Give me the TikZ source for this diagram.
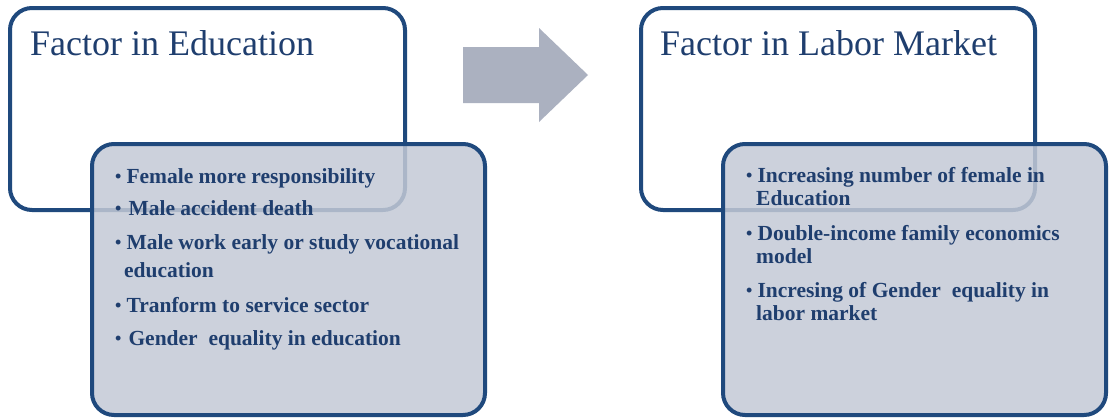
\documentclass[tikz,border=0pt]{standalone}
\usepackage{fontspec}
\setmainfont{Liberation Serif}
\definecolor{bord}{RGB}{31,73,125}
\definecolor{txt}{RGB}{31,62,110}
\definecolor{grayfill}{RGB}{196,202,214}
\definecolor{arrowc}{RGB}{171,177,192}
\newcommand{\smallbul}{\raisebox{1pt}{\fontsize{18}{18}\selectfont\textbullet}}
\begin{document}
\begin{tikzpicture}[x=1pt,y=-1pt,
  whitebox/.style={draw=bord, line width=4pt, rounded corners=22pt, fill=white, inner sep=0pt},
  graybox/.style={draw=bord, line width=4pt, rounded corners=22pt, fill=grayfill, fill opacity=0.85, inner sep=0pt},
  titletext/.style={anchor=base west, inner sep=0pt, text=txt, font=\fontsize{36}{40}\selectfont},
  bulL/.style={anchor=base west, inner sep=0pt, text=txt, align=left, font=\fontsize{21.5}{28}\selectfont\bfseries},
  bulR/.style={anchor=base west, inner sep=0pt, text=txt, align=left, font=\fontsize{21.5}{23}\selectfont\bfseries},
  blockarrow/.style={fill=arrowc, draw=none}
]
\useasboundingbox (0,0) rectangle (1110,418);
\fill[white] (0,0) rectangle (1110,418);
% white title boxes
\node[whitebox, minimum width=395pt, minimum height=202pt] (eduBox) at (207.5,109) {};
\node[whitebox, minimum width=394pt, minimum height=202pt] (labBox) at (838,109) {};
% block arrow
\fill[blockarrow] (463,47) -- (539,47) -- (539,28) -- (588,75) -- (539,122) -- (539,103) -- (463,103) -- cycle;
% gray content boxes
\node[graybox, minimum width=393pt, minimum height=271pt] (eduList) at (288.5,279.5) {};
\node[graybox, minimum width=383pt, minimum height=271pt] (labList) at (914.5,279.5) {};
% titles
\node[titletext] (eduTitle) at (30,55) {Factor in Education};
\node[titletext] (labTitle) at (660,55) {Factor in Labor Market};
% left bullets (multi-line nodes: base = last line)
\node[bulL] (e1) at (115,183) {\smallbul\hspace{5pt}Female more responsibility};
\node[bulL] (e2) at (115,215) {\smallbul\hspace{7pt}Male accident death};
\node[bulL] (e3) at (115,277) {\smallbul\hspace{5pt}Male work early or study vocational\\\hspace*{9pt}education};
\node[bulL] (e4) at (115,312) {\smallbul\hspace{5pt}Tranform to service sector};
\node[bulL] (e5) at (115,345) {\smallbul\hspace{7pt}Gender\ \ equality in education};
% right bullets
\node[bulR] (m1) at (746,205) {\smallbul\hspace{5pt}Increasing number of female in\\\hspace*{10pt}Education};
\node[bulR] (m2) at (746,263) {\smallbul\hspace{5pt}Double-income family economics\\\hspace*{10pt}model};
\node[bulR] (m3) at (746,320) {\smallbul\hspace{5pt}Incresing of Gender\ \ equality in\\\hspace*{10pt}labor market};
\end{tikzpicture}
\end{document}
